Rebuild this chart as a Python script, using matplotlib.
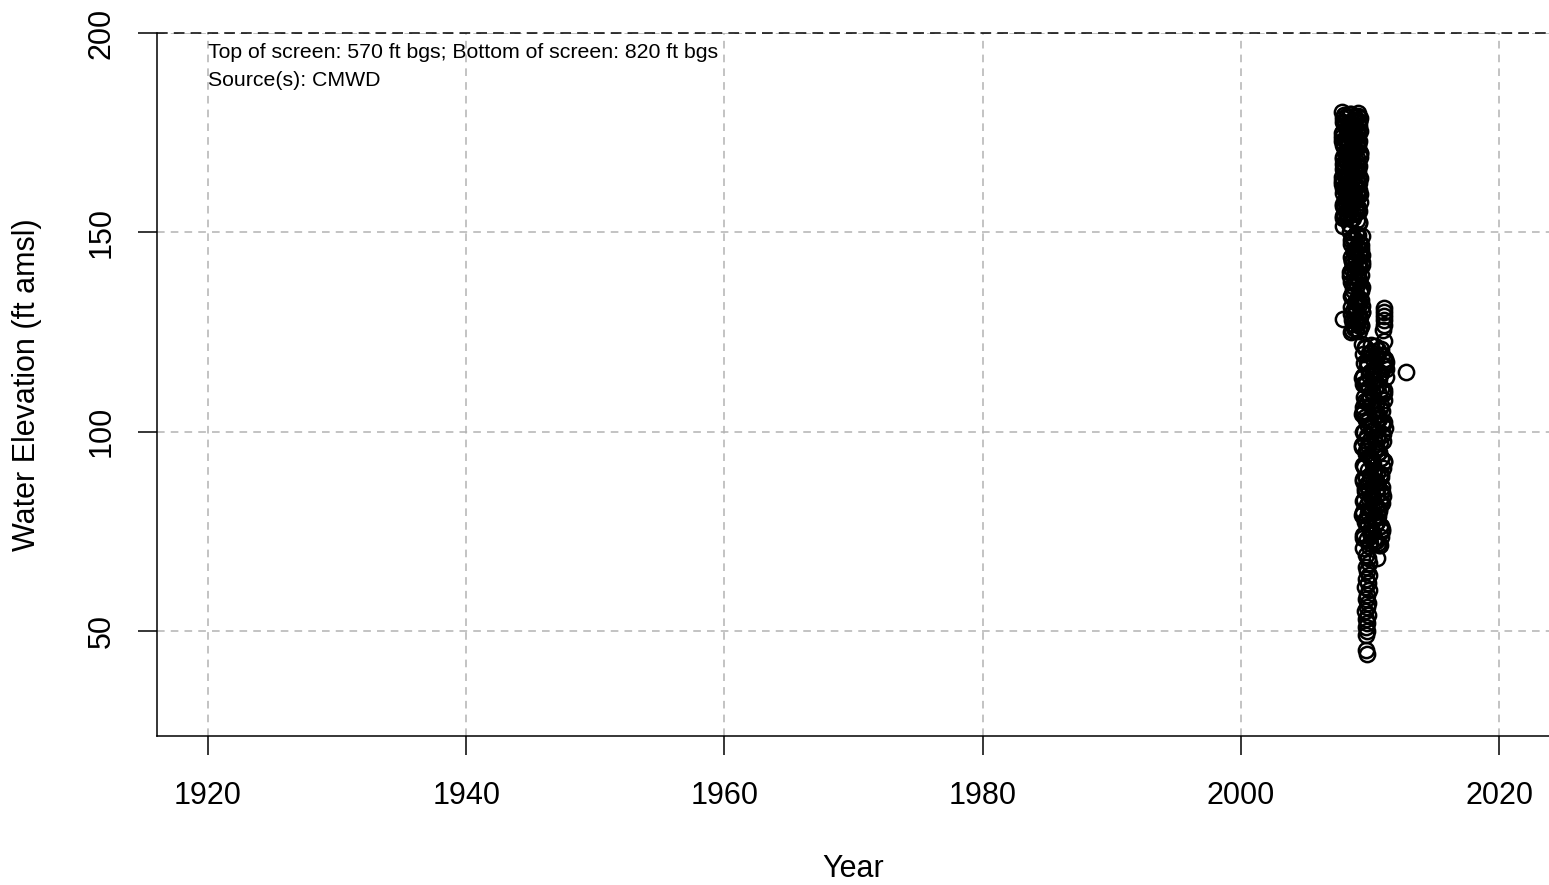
import matplotlib
matplotlib.use('Agg')
from matplotlib import pyplot as plt

plt.rcParams['font.family'] = ['Liberation Sans', 'DejaVu Sans']

# upper block, early record (2007.8 - 2009.2)
yr_a = [2007.86, 2008.47, 2009.05, 2008.24, 2008.88, 2008.03, 2008.66, 2009.22,
        2007.90, 2008.52, 2009.12, 2008.30, 2008.80, 2008.10, 2008.60, 2009.20,
        2007.85, 2008.40, 2009.00, 2008.20, 2008.92, 2008.05, 2008.70, 2009.18,
        2007.92, 2008.55, 2009.10, 2008.28, 2008.84, 2008.12, 2008.62, 2009.23,
        2007.88, 2008.45, 2009.03, 2008.22, 2008.95, 2008.00, 2008.74, 2009.16,
        2007.94, 2008.50, 2009.08, 2008.34, 2008.86, 2008.14, 2008.58, 2009.21,
        2007.86, 2008.42, 2009.02, 2008.26, 2008.90, 2008.06, 2008.68, 2009.19,
        2007.90, 2008.48, 2009.14, 2008.32, 2008.82, 2008.08, 2008.64, 2009.22,
        2007.88, 2008.44, 2009.06, 2008.18, 2008.96, 2008.02, 2008.72, 2009.17]
el_a = [180.3, 179.8, 179.9, 179.1, 178.9, 179.5, 178.2, 178.6,
        177.8, 177.1, 177.6, 176.7, 176.2, 176.9, 175.8, 175.4,
        175.0, 174.3, 174.8, 173.6, 173.9, 173.1, 172.4, 172.8,
        171.9, 171.2, 171.6, 170.5, 170.9, 170.1, 169.4, 169.8,
        168.9, 168.2, 168.6, 167.5, 167.9, 167.0, 166.3, 166.7,
        165.8, 165.1, 165.5, 164.4, 164.8, 164.0, 163.3, 163.7,
        162.8, 162.1, 162.5, 161.4, 161.8, 161.0, 160.3, 160.7,
        159.8, 159.0, 159.4, 158.3, 158.7, 157.9, 157.2, 157.6,
        156.7, 155.8, 156.2, 155.0, 155.4, 154.5, 153.6, 152.4]
yr_a2 = [2008.15, 2008.75, 2007.98, 2009.15, 2008.38,
         2008.98, 2008.20, 2007.84, 2008.58, 2009.10,
         2008.35, 2008.02, 2008.85, 2009.20, 2008.50,
         2008.12, 2008.68, 2007.95, 2009.06, 2008.42,
         2008.90, 2008.25, 2007.87, 2008.62, 2009.14,
         2008.32, 2008.04, 2008.78, 2009.22, 2008.54,
         2008.16, 2008.72, 2007.96, 2009.02, 2008.46,
         2008.94, 2008.28, 2007.90, 2008.56, 2009.12]
el_a2 = [179.0, 178.3, 177.3, 176.6, 176.0,
         175.3, 174.6, 173.9, 173.3, 172.6,
         171.9, 171.3, 170.6, 169.9, 169.2,
         168.5, 167.8, 167.2, 166.5, 165.9,
         165.2, 164.5, 163.9, 163.1, 162.4,
         161.7, 161.1, 160.4, 159.7, 159.1,
         158.4, 157.8, 157.1, 156.5, 155.9,
         155.2, 154.6, 154.0, 153.3, 152.7]
yr_a3 = [2008.56, 2007.93, 2009.18, 2008.10, 2008.82, 2008.36,
         2009.04, 2008.64, 2007.86, 2008.26, 2008.98, 2008.48,
         2008.14, 2009.20, 2008.70, 2007.96, 2008.40, 2008.92,
         2008.58, 2008.06, 2009.12, 2008.30, 2008.76, 2007.89,
         2008.52, 2009.00, 2008.18, 2008.86, 2008.44, 2007.98,
         2009.16, 2008.66, 2008.22, 2008.96, 2008.38, 2007.92]
el_a3 = [179.6, 178.8, 177.9, 177.0, 176.3, 175.5,
         174.7, 173.8, 173.0, 172.2, 171.4, 170.6,
         169.8, 169.0, 168.2, 167.4, 166.6, 165.8,
         165.0, 164.2, 163.4, 162.6, 161.8, 161.0,
         160.2, 159.4, 158.6, 157.8, 157.0, 156.2,
         155.4, 154.6, 153.8, 153.0, 152.2, 151.6]

# decline 2008.5 - 2009.4
yr_b = [2008.48, 2008.95, 2009.38, 2008.72, 2009.18,
        2008.55, 2009.02, 2009.30, 2008.80, 2009.12,
        2008.50, 2008.90, 2009.36, 2008.68, 2009.22,
        2008.58, 2009.05, 2009.28, 2008.76, 2009.15,
        2008.52, 2008.98, 2009.38, 2008.70, 2009.20,
        2008.60, 2009.08, 2009.32, 2008.82, 2009.14,
        2008.54, 2008.92, 2009.36, 2008.74, 2009.24,
        2008.62, 2009.04, 2009.30, 2008.78, 2009.18]
el_b = [150.2, 149.6, 149.0, 148.3, 147.7,
        147.0, 146.4, 145.8, 145.1, 144.5,
        143.9, 143.2, 142.6, 142.0, 141.3,
        140.7, 140.1, 139.4, 138.8, 138.2,
        137.5, 136.9, 136.3, 135.6, 135.0,
        134.4, 133.7, 133.1, 132.5, 131.8,
        131.2, 130.6, 129.9, 129.3, 128.7,
        128.0, 127.4, 126.8, 126.1, 125.3]
yr_b2 = [2008.65, 2009.25, 2008.85, 2009.35, 2008.58,
         2009.10, 2008.46, 2009.00, 2008.75, 2009.33,
         2008.62, 2009.16, 2008.88, 2009.38, 2008.50,
         2009.06, 2008.70, 2009.26, 2008.94, 2008.56]
el_b2 = [148.9, 147.4, 145.9, 144.3, 142.9,
         141.5, 140.0, 138.6, 137.2, 135.8,
         134.3, 132.8, 131.4, 130.0, 129.6,
         128.4, 127.1, 126.5, 125.8, 125.0]
yr_b3 = [2009.08, 2008.52, 2009.30, 2008.78, 2009.20, 2008.64, 2009.36, 2008.88, 2008.48, 2009.12,
         2008.72, 2009.28, 2008.56, 2009.00, 2009.38, 2008.66, 2009.18, 2008.84, 2009.32, 2008.60]
el_b3 = [149.3, 148.0, 146.7, 145.5, 144.2, 142.9, 141.7, 140.4, 139.1, 137.9,
         136.6, 135.3, 134.1, 132.8, 131.5, 130.3, 129.0, 127.7, 126.5, 125.5]

# lower block 2009.4 - 2011.2
yr_c = [2009.40, 2010.40, 2009.65, 2010.65, 2009.90, 2010.90, 2010.15, 2011.15,
        2010.28, 2009.52, 2011.03, 2009.78, 2010.53, 2010.03, 2010.78, 2009.45,
        2009.42, 2010.36, 2009.70, 2010.62, 2009.94, 2010.88, 2010.18, 2011.12,
        2010.25, 2009.55, 2011.06, 2009.80, 2010.50, 2010.06, 2010.80, 2009.48,
        2009.44, 2010.42, 2009.62, 2010.68, 2009.88, 2010.92, 2010.12, 2011.16,
        2010.30, 2009.50, 2011.00, 2009.75, 2010.56, 2010.00, 2010.76, 2009.42,
        2009.40, 2010.38, 2009.66, 2010.64, 2009.92, 2010.86, 2010.16, 2011.10,
        2010.26, 2009.54, 2011.04, 2009.82, 2010.52, 2010.04, 2010.82, 2009.46,
        2009.43, 2010.40, 2009.68, 2010.60, 2009.90, 2010.84, 2010.14, 2011.02,
        2010.22, 2009.52, 2010.96, 2009.78, 2010.48, 2010.02, 2010.74, 2009.44,
        2009.41, 2010.34, 2009.64, 2010.58, 2009.86, 2010.80, 2010.10, 2010.92,
        2010.24, 2009.50, 2010.88, 2009.76, 2010.46, 2010.00, 2010.70, 2009.46]
el_c = [122.0, 121.5, 120.9, 120.4, 119.8, 119.3, 118.8, 118.2,
        117.7, 117.2, 116.6, 116.1, 115.5, 115.0, 114.5, 113.9,
        113.4, 112.9, 112.3, 111.8, 111.2, 110.7, 110.2, 109.6,
        109.1, 108.6, 108.0, 107.5, 106.9, 106.4, 105.9, 105.3,
        104.8, 104.3, 103.7, 103.2, 102.6, 102.1, 101.6, 101.0,
        100.5, 100.0, 99.4, 98.9, 98.3, 97.8, 97.3, 96.7,
        96.2, 95.7, 95.1, 94.6, 94.0, 93.5, 93.0, 92.4,
        91.9, 91.4, 90.8, 90.3, 89.7, 89.2, 88.7, 88.1,
        87.6, 87.1, 86.5, 86.0, 85.4, 84.9, 84.4, 83.8,
        83.3, 82.8, 82.2, 81.7, 81.1, 80.6, 80.1, 79.5,
        79.0, 78.5, 77.9, 77.4, 76.8, 76.3, 75.8, 75.2,
        74.7, 74.2, 73.6, 73.1, 72.5, 72.0, 71.5, 70.9]
yr_c2 = [2009.58, 2010.08, 2010.58, 2011.08,
         2009.84, 2010.34, 2010.84, 2009.46,
         2010.20, 2009.60, 2011.12, 2010.70,
         2009.96, 2010.44, 2009.50, 2010.94,
         2010.62, 2009.72, 2011.05, 2010.10,
         2009.56, 2010.30, 2010.98, 2009.88,
         2010.48, 2009.68, 2010.86, 2010.16,
         2009.52, 2010.24, 2010.76, 2009.98,
         2010.54, 2009.62, 2010.90, 2010.06,
         2009.48, 2010.32, 2010.72, 2009.84,
         2010.44, 2009.58, 2010.82, 2010.12,
         2009.54, 2010.28, 2010.66, 2009.94]
el_c2 = [121.2, 120.0, 119.0, 117.9,
         116.9, 115.8, 114.8, 113.7,
         112.6, 111.6, 110.5, 109.4,
         108.3, 107.3, 106.2, 105.1,
         104.1, 103.0, 101.9, 100.9,
         99.8, 98.7, 97.6, 96.6,
         95.5, 94.4, 93.4, 92.3,
         91.2, 90.2, 89.1, 88.0,
         87.0, 85.9, 84.8, 83.7,
         82.7, 81.6, 80.5, 79.5,
         78.4, 77.3, 76.3, 75.2,
         74.1, 73.1, 72.0, 71.2]
yr_c3 = [2010.12, 2010.88, 2009.44, 2010.50,
         2009.74, 2011.14, 2010.26, 2009.94,
         2010.72, 2009.48, 2010.40, 2011.00,
         2010.04, 2009.64, 2010.82, 2010.32,
         2009.42, 2010.60, 2011.10, 2009.86,
         2010.18, 2010.96, 2009.58, 2010.46,
         2009.80, 2010.68, 2010.08, 2011.06,
         2009.46, 2010.36, 2010.86, 2009.70,
         2010.22, 2010.94, 2009.60, 2010.56,
         2009.90, 2010.78, 2010.14, 2009.44,
         2010.66, 2009.66, 2010.40, 2010.90,
         2010.02, 2009.48, 2010.30, 2010.80]
el_c3 = [121.7, 120.7, 119.6, 118.6,
         117.5, 116.4, 115.3, 114.2,
         113.1, 112.0, 111.0, 109.9,
         108.8, 107.7, 106.6, 105.6,
         104.5, 103.4, 102.3, 101.3,
         100.2, 99.1, 98.0, 96.9,
         95.9, 94.8, 93.7, 92.7,
         91.6, 90.5, 89.4, 88.4,
         87.3, 86.2, 85.2, 84.1,
         83.0, 82.0, 80.9, 79.8,
         78.8, 77.7, 76.6, 75.6,
         74.5, 73.4, 72.4, 71.6]

# low readings 2009.6 - 2010.0
yr_d = [2009.70, 2009.85, 2009.95, 2009.66, 2009.80, 2009.92, 2009.72, 2009.86,
        2009.65, 2009.95, 2009.78, 2009.68, 2009.88, 2009.74, 2009.64, 2009.84,
        2009.70, 2009.80, 2009.66, 2009.76, 2009.70, 2009.68, 2009.75]
el_d = [69.0, 68.2, 67.0, 66.1, 65.0, 64.1, 63.0, 62.0,
        61.1, 60.2, 59.0, 58.1, 57.0, 56.0, 55.1, 54.0,
        53.0, 52.0, 51.0, 50.0, 49.0, 45.2, 44.3]

# scattered readings
yr_e = [2007.90, 2011.08, 2011.10, 2011.06, 2011.12, 2011.08, 2011.05, 2011.10,
        2011.25, 2011.22, 2011.26, 2012.76, 2010.55, 2009.08, 2009.10, 2009.06,
        2007.88, 2007.92, 2007.86, 2007.90, 2007.88]
el_e = [128.3, 131.0, 130.0, 129.0, 128.0, 126.8, 125.5, 122.8,
        117.4, 115.6, 113.6, 115.0, 68.3, 179.2, 177.8, 172.4,
        175.2, 168.5, 162.0, 157.0, 153.5]

years = yr_a + yr_a2 + yr_a3 + yr_b + yr_b2 + yr_b3 + yr_c + yr_c2 + yr_c3 + yr_d + yr_e
elev = el_a + el_a2 + el_a3 + el_b + el_b2 + el_b3 + el_c + el_c2 + el_c3 + el_d + el_e

xticks = [1920, 1940, 1960, 1980, 2000, 2020]
yticks = [50, 100, 150, 200]
note = "Top of screen: 570 ft bgs; Bottom of screen: 820 ft bgs\nSource(s): CMWD"

fig = plt.figure(figsize=(15.49, 8.85), dpi=100)
ax = fig.add_axes([157 / 1549, 1 - 736 / 885, 1 - 157 / 1549, (736 - 33) / 885])
ax.set_xlim(1916.05, 2023.87)
ax.set_ylim(23.66, 200)

for x in xticks:
    ax.axvline(x, color='#b3b3b3', lw=1.1, dashes=(5, 4), zorder=1)
for y in yticks:
    ax.axhline(y, color='#b3b3b3', lw=1.1, dashes=(5, 4), zorder=1)
ax.axhline(200, color='black', lw=1.1, dashes=(7, 4), zorder=2, clip_on=False)

ax.plot(years, elev, linestyle='none', marker='o', markersize=11,
        markerfacecolor='none', markeredgecolor='black', markeredgewidth=1.8, zorder=3)

ax.spines['top'].set_visible(False)
ax.spines['right'].set_visible(False)
for s in ['left', 'bottom']:
    ax.spines[s].set_linewidth(1.1)

ax.set_xticks(xticks)
ax.set_yticks(yticks)
ax.set_yticklabels([str(v) for v in yticks], rotation=90, va='center')
ax.tick_params(direction='out', length=13.7, width=1.1, pad=19, labelsize=22)
ax.tick_params(axis='y', pad=15.5)

ax.text(1920, 197.4, note, fontsize=15.3, ha='left', va='top', linespacing=1.6)

fig.text(27 / 1549, 1 - 385 / 885, "Water Elevation (ft amsl)", rotation=90,
         fontsize=22, ha='center', va='center')
fig.text(853 / 1549, 1 - 869 / 885, "Year", fontsize=22, ha='center', va='center')

fig.savefig('out.png', dpi=100)
